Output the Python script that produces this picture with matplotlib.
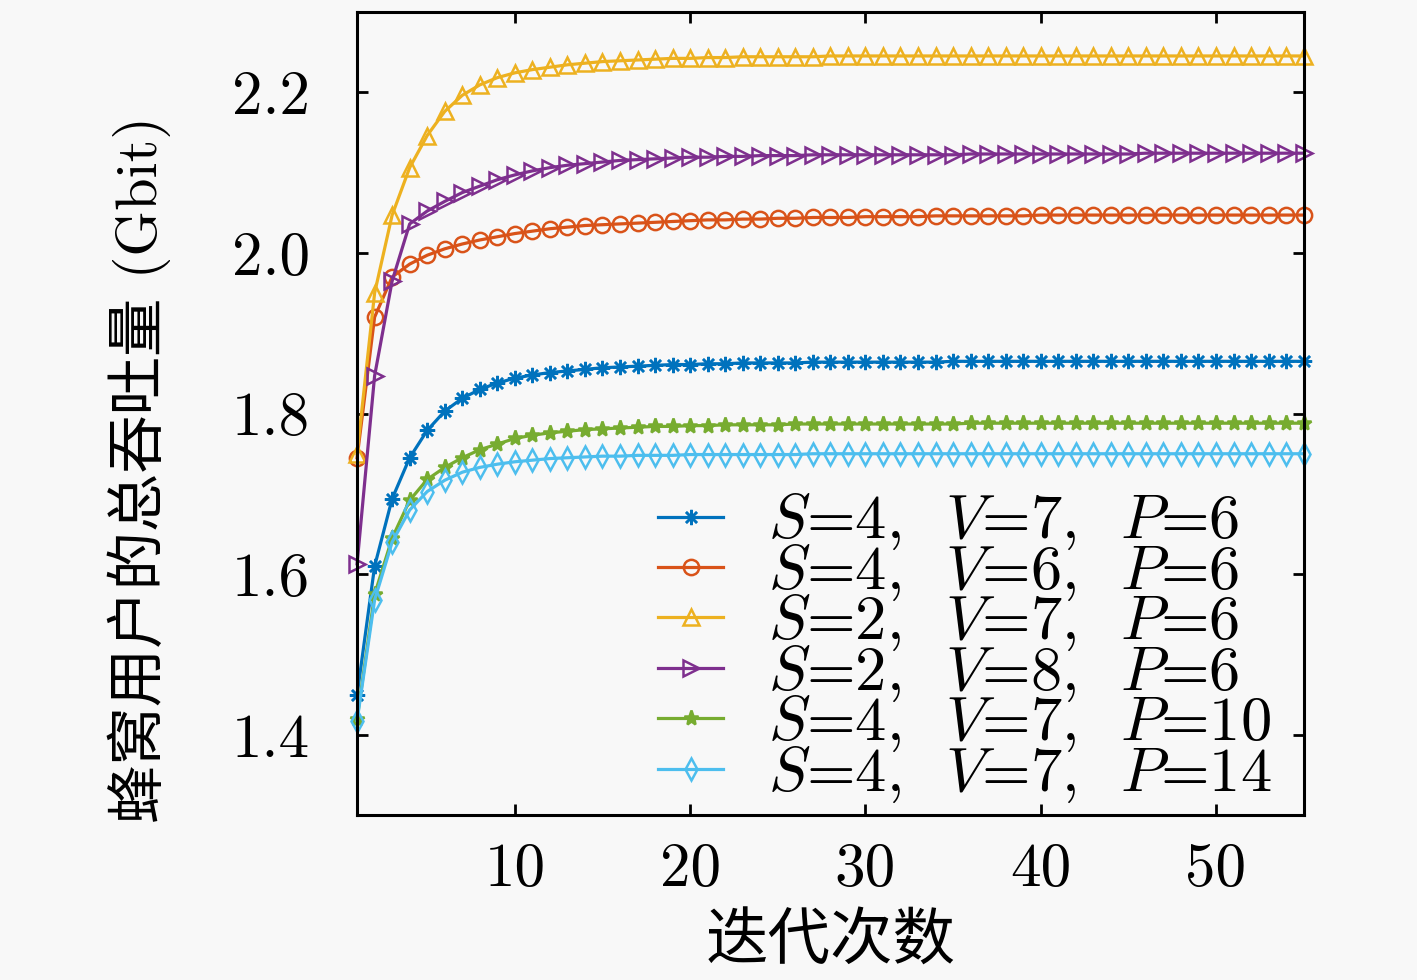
import matplotlib
matplotlib.use('Agg')
import matplotlib.pyplot as plt

plt.rcParams['mathtext.fontset'] = 'cm'
plt.rcParams['axes.formatter.use_mathtext'] = True

# 数据（迭代 1..55）
iters = list(range(1, 56))

s4v7p6 = [1.450, 1.610, 1.694, 1.745, 1.779, 1.803, 1.819, 1.830, 1.838, 1.844,
          1.848, 1.851, 1.853, 1.855, 1.857, 1.858, 1.859, 1.860, 1.861, 1.861,
          1.862, 1.862, 1.863, 1.863, 1.863, 1.863, 1.864, 1.864, 1.864, 1.864,
          1.864, 1.864, 1.864, 1.864, 1.865, 1.865, 1.865, 1.865, 1.865, 1.865,
          1.865, 1.865, 1.865, 1.865, 1.865, 1.865, 1.865, 1.865, 1.865, 1.865,
          1.865, 1.865, 1.865, 1.865, 1.865]
s4v6p6 = [1.745, 1.920, 1.970, 1.986, 1.997, 2.005, 2.011, 2.016, 2.020, 2.024,
          2.027, 2.030, 2.032, 2.034, 2.035, 2.036, 2.037, 2.038, 2.039, 2.040,
          2.041, 2.041, 2.042, 2.042, 2.043, 2.043, 2.044, 2.044, 2.044, 2.045,
          2.045, 2.045, 2.045, 2.046, 2.046, 2.046, 2.046, 2.046, 2.046, 2.047,
          2.047, 2.047, 2.047, 2.047, 2.047, 2.047, 2.047, 2.047, 2.047, 2.047,
          2.047, 2.047, 2.047, 2.047, 2.047]
s2v7p6 = [1.750, 1.950, 2.047, 2.106, 2.146, 2.176, 2.196, 2.209, 2.218, 2.224,
          2.228, 2.231, 2.234, 2.236, 2.238, 2.239, 2.240, 2.241, 2.242, 2.242,
          2.243, 2.243, 2.244, 2.244, 2.244, 2.244, 2.244, 2.245, 2.245, 2.245,
          2.245, 2.245, 2.245, 2.245, 2.245, 2.245, 2.245, 2.245, 2.245, 2.245,
          2.245, 2.245, 2.245, 2.245, 2.245, 2.245, 2.245, 2.245, 2.245, 2.245,
          2.245, 2.245, 2.245, 2.245, 2.245]
s2v8p6 = [1.613, 1.847, 1.965, 2.036, 2.052, 2.064, 2.075, 2.083, 2.091, 2.097,
          2.102, 2.106, 2.109, 2.111, 2.113, 2.115, 2.116, 2.117, 2.118, 2.119,
          2.119, 2.120, 2.120, 2.121, 2.121, 2.121, 2.122, 2.122, 2.122, 2.122,
          2.122, 2.122, 2.122, 2.122, 2.122, 2.123, 2.123, 2.123, 2.123, 2.123,
          2.123, 2.123, 2.123, 2.123, 2.123, 2.124, 2.124, 2.124, 2.124, 2.124,
          2.124, 2.124, 2.124, 2.124, 2.124]
s4v7p10 = [1.420, 1.575, 1.645, 1.692, 1.718, 1.733, 1.745, 1.755, 1.762, 1.769,
           1.773, 1.776, 1.778, 1.780, 1.781, 1.782, 1.783, 1.784, 1.784, 1.785,
           1.785, 1.786, 1.786, 1.786, 1.786, 1.787, 1.787, 1.787, 1.787, 1.787,
           1.787, 1.787, 1.787, 1.787, 1.787, 1.788, 1.788, 1.788, 1.788, 1.788,
           1.788, 1.788, 1.788, 1.788, 1.788, 1.788, 1.788, 1.788, 1.788, 1.788,
           1.788, 1.788, 1.788, 1.788, 1.788]
s4v7p14 = [1.418, 1.568, 1.640, 1.680, 1.703, 1.717, 1.727, 1.733, 1.737, 1.740,
           1.742, 1.744, 1.745, 1.746, 1.747, 1.747, 1.748, 1.748, 1.748, 1.749,
           1.749, 1.749, 1.749, 1.749, 1.749, 1.749, 1.750, 1.750, 1.750, 1.750,
           1.750, 1.750, 1.750, 1.750, 1.750, 1.750, 1.750, 1.750, 1.750, 1.750,
           1.750, 1.750, 1.750, 1.750, 1.750, 1.750, 1.750, 1.750, 1.750, 1.750,
           1.750, 1.750, 1.750, 1.750, 1.750]

labels = [r'$S$=4,  $V$=7,  $P$=6',
          r'$S$=4,  $V$=6,  $P$=6',
          r'$S$=2,  $V$=7,  $P$=6',
          r'$S$=2,  $V$=8,  $P$=6',
          r'$S$=4,  $V$=7,  $P$=10',
          r'$S$=4,  $V$=7,  $P$=14']

xticks = [10, 20, 30, 40, 50]
yticks = [1.4, 1.6, 1.8, 2.0, 2.2]
ytick_labels = ['1.4', '1.6', '1.8', '2.0', '2.2']

series = [s4v7p6, s4v6p6, s2v7p6, s2v8p6, s4v7p10, s4v7p14]
colors = ['#0072BD', '#D95319', '#EDB120', '#7E2F8E', '#77AC30', '#4DBEEE']
markers = [(8, 2, 0), 'o', '^', '>', '*', 'd']
filled = [True, False, False, False, True, False]

bg = '#f8f8f8'
fig = plt.figure(figsize=(14.17, 9.8), dpi=100, facecolor=bg)
ax = fig.add_axes([0.252, 0.168, 0.668, 0.820], facecolor=bg)

for y, c, m, f, lab in zip(series, colors, markers, filled, labels):
    ax.plot(iters, y, color=c, lw=2.3, marker=m, ms=11, mew=1.8,
            mfc=c if f else 'none', mec=c, label=lab, clip_on=False)

ax.set_xlim(1, 55)
ax.set_ylim(1.3, 2.3)
ax.set_xticks(xticks)
ax.set_xticklabels([str(v) for v in xticks], fontfamily='cmr10', fontsize=44)
ax.set_yticks(yticks)
ax.set_yticklabels(ytick_labels, fontfamily='cmr10', fontsize=44)
ax.tick_params(axis='both', direction='in', top=True, right=True,
               length=8, width=2)
ax.tick_params(axis='x', pad=20)
ax.tick_params(axis='y', pad=34)
for sp in ax.spines.values():
    sp.set_linewidth(2.2)

ax.set_xlabel('迭代次数', fontfamily=['cmr10', 'Noto Sans CJK SC'], fontsize=45)
ax.set_ylabel('蜂窝用户的总吞吐量 (Gbit)', fontfamily=['cmr10', 'Noto Sans CJK SC'],
              fontsize=42)
ax.xaxis.set_label_coords(0.5, -0.122)
ax.yaxis.set_label_coords(-0.197, 0.43)

leg = ax.legend(loc='lower right', bbox_to_anchor=(0.993, -0.018), frameon=False,
                prop={'family': 'cmr10', 'size': 45}, handlelength=1.05,
                handletextpad=0.72, labelspacing=-0.155, borderaxespad=0.0)

fig.savefig('out.png', dpi=100, facecolor=bg)
